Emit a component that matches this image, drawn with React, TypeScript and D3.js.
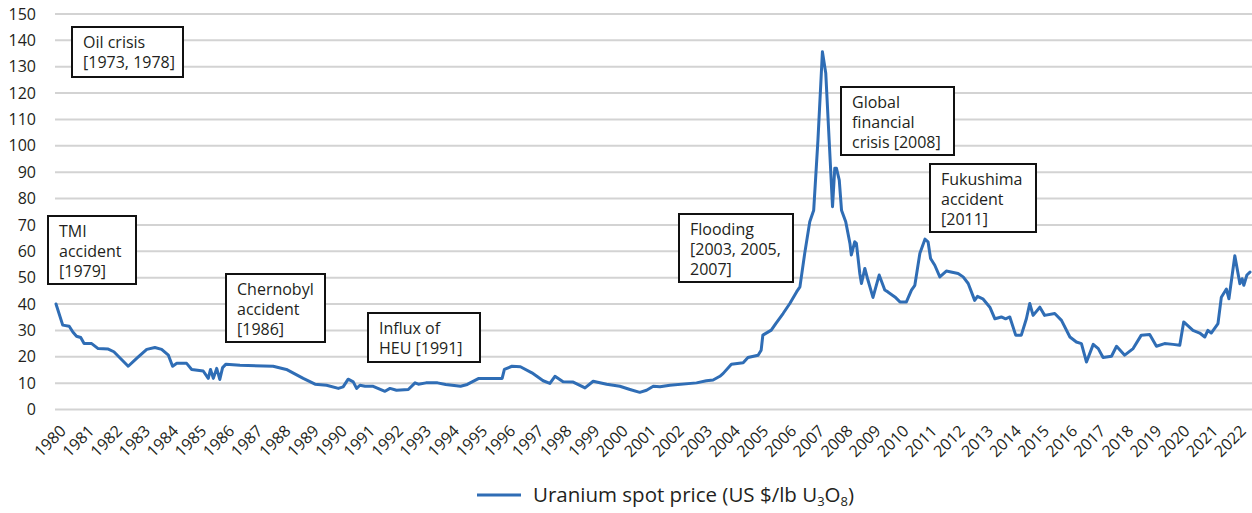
import React from "react";
import * as d3 from "d3";

const years: number[] = [
  1980.0, 1980.24, 1980.47, 1980.6, 1980.73, 1980.88, 1981.0, 1981.27, 1981.5, 1981.86,
  1982.06, 1982.57, 1982.87, 1983.23, 1983.52, 1983.76, 1984.0, 1984.15, 1984.3, 1984.65,
  1984.83, 1985.24, 1985.42, 1985.5, 1985.6, 1985.72, 1985.83, 1985.93, 1986.05, 1986.55,
  1987.73, 1988.2, 1988.8, 1989.22, 1989.63, 1990.05, 1990.22, 1990.4, 1990.58, 1990.7,
  1990.82, 1991.0, 1991.29, 1991.71, 1991.89, 1992.12, 1992.54, 1992.78, 1992.9, 1993.17,
  1993.58, 1993.87, 1994.4, 1994.64, 1995.05, 1995.88, 1995.96, 1996.23, 1996.53, 1996.94,
  1997.34, 1997.58, 1997.76, 1998.05, 1998.41, 1998.83, 1999.12, 1999.6, 2000.07, 2000.43,
  2000.78, 2001.02, 2001.26, 2001.5, 2001.85, 2002.8, 2003.15, 2003.39, 2003.63, 2003.75,
  2004.04, 2004.46, 2004.63, 2004.99, 2005.1, 2005.16, 2005.46, 2005.62, 2005.88, 2006.12,
  2006.36, 2006.48, 2006.65, 2006.83, 2006.97, 2007.12, 2007.28, 2007.4, 2007.52, 2007.64,
  2007.72, 2007.78, 2007.88, 2007.96, 2008.11, 2008.26, 2008.31, 2008.43, 2008.49, 2008.61,
  2008.67, 2008.79, 2008.9, 2009.08, 2009.3, 2009.5, 2009.61, 2009.86, 2010.04, 2010.27,
  2010.45, 2010.57, 2010.75, 2010.93, 2011.04, 2011.13, 2011.28, 2011.46, 2011.69, 2012.11,
  2012.29, 2012.47, 2012.7, 2012.8, 2012.99, 2013.24, 2013.42, 2013.65, 2013.8, 2013.95,
  2014.16, 2014.36, 2014.54, 2014.66, 2014.78, 2015.02, 2015.19, 2015.55, 2015.79, 2016.09,
  2016.32, 2016.5, 2016.68, 2016.92, 2017.1, 2017.27, 2017.57, 2017.75, 2018.04, 2018.34,
  2018.63, 2018.93, 2019.17, 2019.46, 2019.76, 2020.0, 2020.14, 2020.47, 2020.71, 2020.89,
  2021.0, 2021.12, 2021.36, 2021.48, 2021.66, 2021.75, 2021.96, 2022.14, 2022.22, 2022.28,
  2022.39, 2022.5,
];

const prices: number[] = [
  40.0, 32.0, 31.6, 29.4, 27.8, 27.3, 25.0, 25.0, 23.1, 22.9,
  21.9, 16.4, 19.4, 22.8, 23.5, 22.8, 20.6, 16.4, 17.5, 17.5,
  15.2, 14.6, 11.8, 15.2, 11.8, 15.6, 11.4, 15.9, 17.2, 16.8,
  16.4, 15.2, 11.8, 9.6, 9.2, 8.0, 8.6, 11.5, 10.5, 8.0,
  9.2, 8.8, 8.8, 6.9, 8.0, 7.3, 7.6, 10.1, 9.6, 10.1,
  10.1, 9.5, 8.8, 9.5, 11.8, 11.8, 15.2, 16.4, 16.2, 13.9,
  10.9, 9.9, 12.6, 10.5, 10.4, 8.2, 10.7, 9.6, 8.8, 7.6,
  6.5, 7.3, 8.8, 8.6, 9.2, 10.1, 10.9, 11.2, 12.6, 13.7,
  17.2, 17.7, 19.7, 20.6, 22.5, 28.2, 30.1, 32.6, 36.4, 40.2,
  44.6, 46.5, 59.2, 71.2, 75.6, 102, 135.7, 127.5, 102.2, 76.9,
  91.5, 91.5, 87, 75.6, 71.2, 63, 58.6, 63.6, 63, 51.6,
  47.8, 53.5, 49.1, 42.5, 51, 45.3, 44.6, 42.7, 40.8, 40.8,
  45.3, 47.1, 59.3, 64.6, 63.6, 57.3, 54.7, 50.3, 52.5, 51.6,
  50.3, 47.8, 41.4, 42.9, 42.0, 38.8, 34.4, 35.1, 34.4, 35.1,
  28.2, 28.2, 34.4, 40.2, 35.7, 38.8, 35.7, 36.4, 33.8, 27.5,
  25.6, 25.0, 18.0, 24.7, 23.1, 19.7, 20.2, 24.0, 20.6, 23.1,
  28.2, 28.4, 24.0, 25.0, 24.7, 24.4, 33.2, 30.0, 29.0, 27.5,
  30.0, 29.0, 32.6, 42.6, 45.7, 42.0, 58.3, 47.7, 49.6, 47.1,
  51.0, 52.1,
];

const yTicks: number[] = [0, 10, 20, 30, 40, 50, 60, 70, 80, 90, 100, 110, 120, 130, 140, 150];
const xTickYears: number[] = d3.range(1980, 2023);

const annotations: { lines: string[]; x: number; y: number; w: number; h: number }[] = [
  { lines: ["Oil crisis", "[1973, 1978]"], x: 72, y: 27, w: 111, h: 50 },
  { lines: ["TMI", "accident", "[1979]"], x: 48, y: 216, w: 88, h: 68 },
  { lines: ["Chernobyl", "accident", "[1986]"], x: 226, y: 274, w: 99, h: 68 },
  { lines: ["Influx of", "HEU [1991]"], x: 368, y: 313, w: 112, h: 49 },
  { lines: ["Flooding", "[2003, 2005,", "2007]"], x: 679, y: 214, w: 114, h: 68 },
  { lines: ["Global", "financial", "crisis [2008]"], x: 841, y: 87, w: 113, h: 68 },
  { lines: ["Fukushima", "accident", "[2011]"], x: 930, y: 164, w: 106, h: 68 },
];

const FONT = "'Open Sans', 'Noto Sans', sans-serif";
const TEXT = "#231f20";
const LINE = "#2f6db5";
const GRID = "#d3d3d3";

export default function App() {
  const W = 1252;
  const H = 513;
  const x = d3.scaleLinear().domain([1980, 2022.5]).range([56, 1250]);
  const y = d3.scaleLinear().domain([0, 150]).range([409.5, 14]);
  const data = years.map((yr, i) => [yr, prices[i]] as [number, number]);
  const line = d3
    .line<[number, number]>()
    .x((d) => x(d[0]))
    .y((d) => y(d[1]));

  return (
    <svg
      width={W}
      height={H}
      style={{ position: "absolute", left: 0, top: 0, background: "#fff" }}
      fontFamily={FONT}
    >
      <rect x={0} y={0} width={W} height={H} fill="#fff" />
      {yTicks.map((t) => (
        <g key={t}>
          <line x1={55} x2={W} y1={y(t)} y2={y(t)} stroke={GRID} strokeWidth={2} />
          <text x={36} y={y(t)} dy="0.35em" textAnchor="end" fontSize={16} fill={TEXT}>
            {t}
          </text>
        </g>
      ))}
      {xTickYears.map((yr) => (
        <text
          key={yr}
          transform={`translate(${x(yr) + 11},${432}) rotate(-45)`}
          textAnchor="end"
          fontSize={16}
          fill={TEXT}
        >
          {yr}
        </text>
      ))}
      <path
        d={line(data) || ""}
        fill="none"
        stroke={LINE}
        strokeWidth={3}
        strokeLinejoin="round"
        strokeLinecap="round"
      />
      {annotations.map((a, i) => (
        <g key={i}>
          <rect x={a.x} y={a.y} width={a.w} height={a.h} fill="#fff" stroke="#111" strokeWidth={2} />
          {a.lines.map((l, j) => (
            <text key={j} x={a.x + 11} y={a.y + 21 + j * 20} fontSize={16} fill={TEXT}>
              {l}
            </text>
          ))}
        </g>
      ))}
      <g>
        <line x1={477} x2={521} y1={495} y2={495} stroke={LINE} strokeWidth={3} />
        <text x={533} y={502} fontSize={20.5} fill={TEXT}>
          Uranium spot price (US $/lb U
          <tspan fontSize={13} dy={4}>3</tspan>
          <tspan dy={-4}>O</tspan>
          <tspan fontSize={13} dy={4}>8</tspan>
          <tspan dy={-4}>)</tspan>
        </text>
      </g>
    </svg>
  );
}
